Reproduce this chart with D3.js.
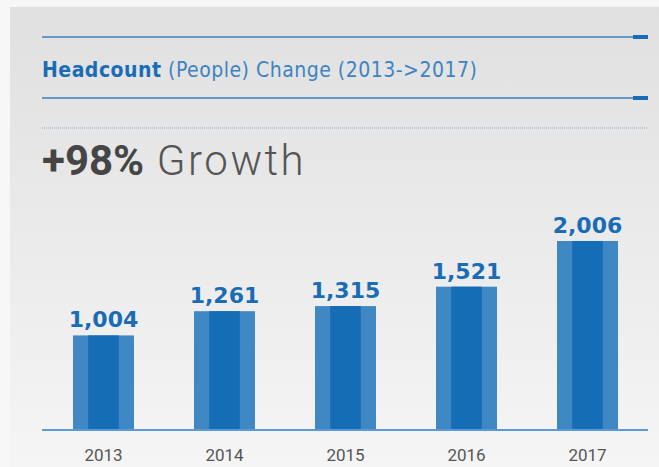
<!DOCTYPE html>
<html>
<head>
<meta charset="utf-8">
<script src="https://cdn.jsdelivr.net/npm/d3@7"></script>
<style>
  html, body { margin: 0; padding: 0; background: #fff; }
  svg { display: block; }
</style>
</head>
<body>
<svg id="svg" width="659" height="467"></svg>
<script>
// chart data
const years = ['2013', '2014', '2015', '2016', '2017'];
const headcount = [1004, 1261, 1315, 1521, 2006];
const growthLabel = '+98%';

(function() {

const width = 659;
const height = 467;
const left = 42, right = 648;
const baseY = 430;

const svg = d3.select('#svg');

// background panel with soft vertical gradient
const defs = svg.append('defs');
const grad = defs.append('linearGradient')
  .attr('id', 'bg').attr('x1', 0).attr('y1', 0).attr('x2', 0).attr('y2', 1);
grad.append('stop').attr('offset', '0%').attr('stop-color', '#e0e0e0');
grad.append('stop').attr('offset', '100%').attr('stop-color', '#f5f5f5');

svg.append('rect').attr('width', width).attr('height', height).attr('fill', '#f7f7f7');
svg.append('rect')
  .attr('x', 10).attr('y', 7)
  .attr('width', width - 10).attr('height', height - 7)
  .attr('fill', 'url(#bg)');

// header rules
function rule(y) {
  svg.append('line')
    .attr('x1', left).attr('x2', right - 15)
    .attr('y1', y).attr('y2', y)
    .attr('stroke', '#3d80c1').attr('stroke-width', 1.5);
  svg.append('rect')
    .attr('x', right - 15).attr('y', y - 2)
    .attr('width', 15).attr('height', 4)
    .attr('fill', '#1a6db5');
}
rule(37);
rule(98);

svg.append('line')
  .attr('x1', left).attr('x2', right)
  .attr('y1', 128).attr('y2', 128)
  .attr('stroke', '#7fb0dc').attr('stroke-width', 1.2)
  .attr('stroke-dasharray', '1,1');

// title
const title = svg.append('text')
  .attr('x', left).attr('y', 77)
  .style('font-family', 'DejaVu Sans')
  .style('font-stretch', 'condensed')
  .style('font-size', '21px')
  .style('letter-spacing', '0.5px');
title.append('tspan').attr('fill', '#1a6db5').style('font-weight', 'bold').text('Headcount');
title.append('tspan').attr('fill', '#3d83c4').text(' (People) Change (2013->2017)');

// growth headline
const head = svg.append('text')
  .attr('x', left).attr('y', 175)
  .style('font-family', 'Roboto')
  .style('font-size', '42px');
head.append('tspan').attr('fill', '#454545').style('font-weight', 'bold').text(growthLabel);
head.append('tspan').attr('fill', '#555').style('font-weight', 300)
  .style('letter-spacing', '2.5px').text(' Growth');

// scales
const x = d3.scaleBand()
  .domain(years)
  .range([43, 43 + 121 * 5])
  .paddingInner(0.496)
  .paddingOuter(0.248);

const y = d3.scaleLinear()
  .domain([0, 2006])
  .range([baseY, 241]);

const bw = x.bandwidth();
const data = years.map((yr, i) => ({year: yr, value: headcount[i]}));

const bars = svg.append('g').selectAll('g.bar')
  .data(data)
  .enter().append('g')
  .attr('class', 'bar');

bars.append('rect')
  .attr('x', d => x(d.year))
  .attr('y', d => y(d.value))
  .attr('width', bw)
  .attr('height', d => baseY - y(d.value))
  .attr('fill', '#3f88c3');

bars.append('rect')
  .attr('x', d => x(d.year) + bw / 4)
  .attr('y', d => y(d.value))
  .attr('width', bw / 2)
  .attr('height', d => baseY - y(d.value))
  .attr('fill', '#146db5');

bars.append('text')
  .attr('x', d => x(d.year) + bw / 2)
  .attr('y', d => y(d.value) - 8)
  .attr('text-anchor', 'middle')
  .attr('fill', '#1a6db5')
  .style('font-family', 'DejaVu Sans')
  .style('font-weight', 'bold')
  .style('font-size', '22px')
  .text(d => d3.format(',')(d.value));

// baseline axis
const axis = svg.append('g')
  .attr('transform', 'translate(0,' + baseY + ')')
  .call(d3.axisBottom(x).tickSize(0).tickPadding(19));
axis.select('.domain').remove();
axis.append('line')
  .attr('x1', left).attr('x2', right)
  .attr('stroke', '#5b9bd5').attr('stroke-width', 2);
axis.selectAll('.tick text')
  .attr('fill', '#555')
  .style('font-family', 'Roboto')
  .style('font-size', '17px');

})();
</script>
</body>
</html>
